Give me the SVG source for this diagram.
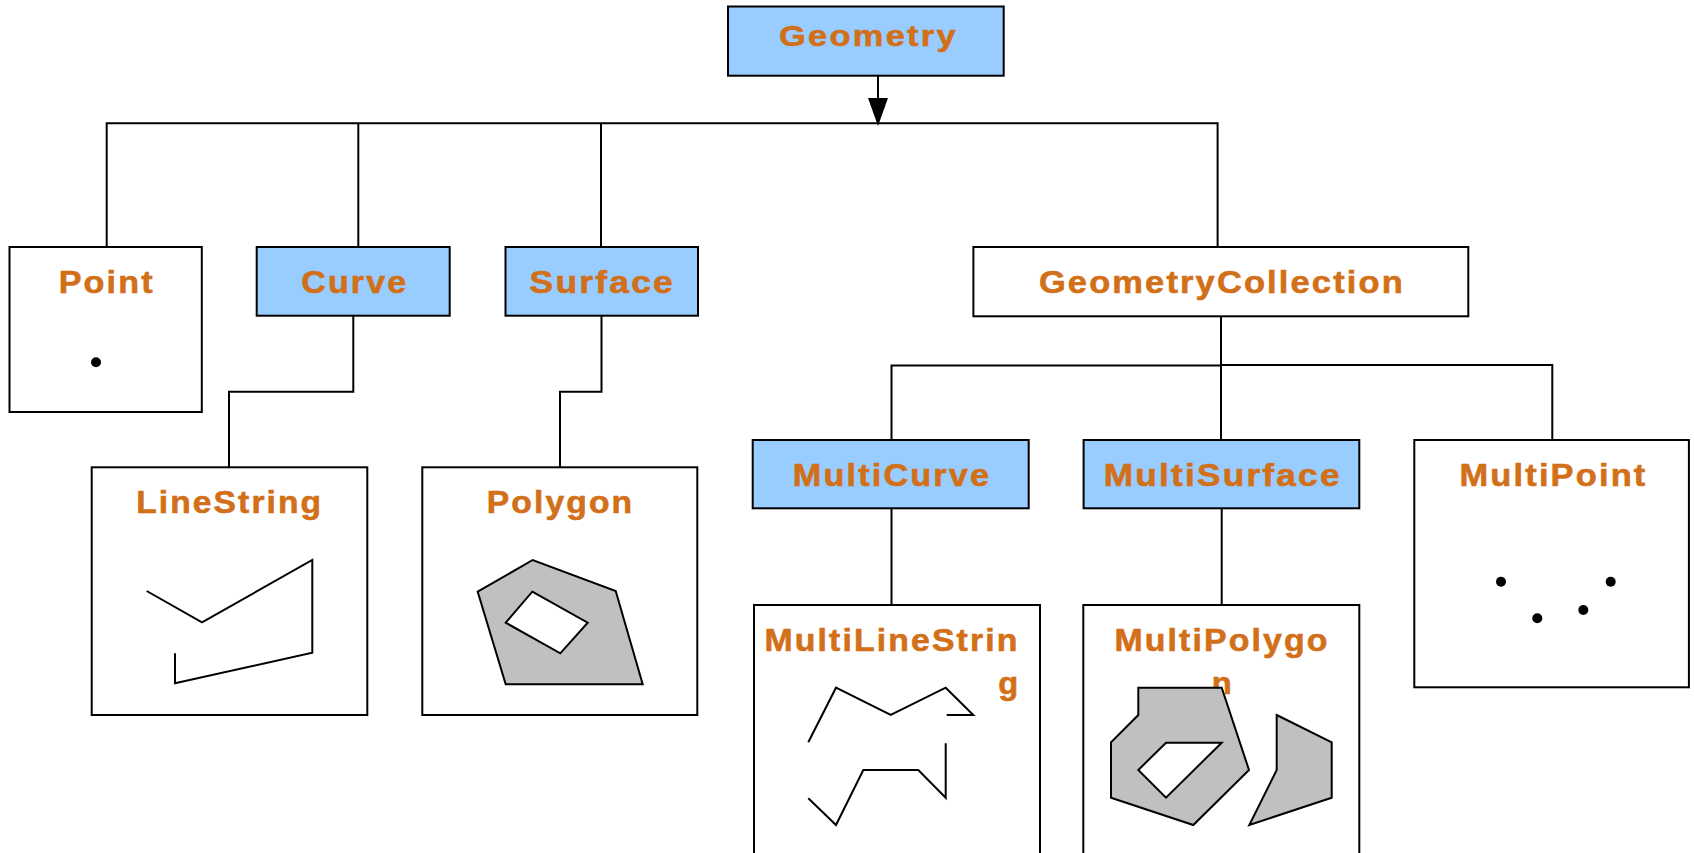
<svg xmlns="http://www.w3.org/2000/svg" width="1694" height="853" viewBox="0 0 1694 853">
<style>
.box{fill:#ffffff;stroke:#000;stroke-width:2}
.blue{fill:#99CCFF;stroke:#000;stroke-width:2}
.lbl{font-family:"Liberation Sans",Arial,sans-serif;font-weight:bold;font-size:32px;letter-spacing:2px;fill:#D2701A;stroke:#D2701A;stroke-width:0.6;text-anchor:middle}
.conn{fill:none;stroke:#000;stroke-width:2}
.geo{fill:none;stroke:#000;stroke-width:2;stroke-linejoin:miter}
.poly{fill:#C0C0C0;stroke:#000;stroke-width:2}
.hole{fill:#ffffff;stroke:#000;stroke-width:2}
</style>
<rect width="1694" height="853" fill="#ffffff"/>
<g id="connectors">
<path class="conn" d="M878,76 L878,98"/>
<path d="M868,98 L888,98 L878,126 Z" fill="#000"/>
<path class="conn" d="M106.7,247 L106.7,123.3 L1217.6,123.3 L1217.6,247"/>
<path class="conn" d="M358.3,123.3 L358.3,247"/>
<path class="conn" d="M601,123.3 L601,247"/>
<path class="conn" d="M353.3,316 L353.3,391.7 L229,391.7 L229,467"/>
<path class="conn" d="M601.5,316 L601.5,391.7 L560,391.7 L560,467"/>
<path class="conn" d="M1221,316.5 L1221,440"/>
<path class="conn" d="M891.5,440 L891.5,365.5 L1221,365.5"/>
<path class="conn" d="M1221,365 L1552.3,365 L1552.3,440"/>
<path class="conn" d="M891.5,508 L891.5,605"/>
<path class="conn" d="M1221.7,508 L1221.7,605"/>
</g>
<g id="geometry">
<rect class="blue" x="728" y="6.5" width="275.7" height="69.2"/>
<text class="lbl" x="868.5" y="45.5" style="font-size:30px" textLength="179" lengthAdjust="spacingAndGlyphs">Geometry</text>
</g>
<g id="point">
<rect class="box" x="9.5" y="247" width="192.3" height="165"/>
<text class="lbl" x="106.7" y="293.3" textLength="96" lengthAdjust="spacingAndGlyphs">Point</text>
<circle cx="96" cy="362.3" r="5"/>
</g>
<g id="curve">
<rect class="blue" x="256.7" y="247" width="193" height="68.7"/>
<text class="lbl" x="354.8" y="293.3" textLength="107" lengthAdjust="spacingAndGlyphs">Curve</text>
</g>
<g id="surface">
<rect class="blue" x="505.5" y="247" width="192.5" height="68.7"/>
<text class="lbl" x="602.3" y="292.8" textLength="145.5" lengthAdjust="spacingAndGlyphs">Surface</text>
</g>
<g id="geometrycollection">
<rect class="box" x="973.4" y="247" width="494.9" height="69.3"/>
<text class="lbl" x="1221.9" y="293.3" textLength="366" lengthAdjust="spacingAndGlyphs">GeometryCollection</text>
</g>
<g id="linestring">
<rect class="box" x="91.7" y="467.3" width="275.6" height="247.7"/>
<text class="lbl" x="229.7" y="512.7" textLength="187" lengthAdjust="spacingAndGlyphs">LineString</text>
<polyline class="geo" points="146.7,591 202,622.3 312.3,560 312.3,652.7 175,683.3 175,653.3"/>
</g>
<g id="polygon">
<rect class="box" x="422.3" y="467.3" width="275" height="247.7"/>
<text class="lbl" x="560.5" y="512.7" textLength="147.5" lengthAdjust="spacingAndGlyphs">Polygon</text>
<polygon class="poly" points="477.7,591.7 532.7,560 615.7,591 642.7,684.3 505.7,684.3"/>
<polygon class="hole" points="532.3,591.7 587.7,622.7 560.3,653.3 505.7,622.7"/>
</g>
<g id="multicurve">
<rect class="blue" x="752.7" y="440" width="276" height="68.3"/>
<text class="lbl" x="892" y="485.7" textLength="198.5" lengthAdjust="spacingAndGlyphs">MultiCurve</text>
</g>
<g id="multisurface">
<rect class="blue" x="1083.6" y="440" width="275.7" height="68.3"/>
<text class="lbl" x="1222.7" y="485.7" textLength="238" lengthAdjust="spacingAndGlyphs">MultiSurface</text>
</g>
<g id="multipoint">
<rect class="box" x="1414.3" y="440" width="274.6" height="247.3"/>
<text class="lbl" x="1553.5" y="486" textLength="188" lengthAdjust="spacingAndGlyphs">MultiPoint</text>
<circle cx="1501" cy="581.7" r="5"/>
<circle cx="1610.7" cy="581.7" r="5"/>
<circle cx="1537.3" cy="618.3" r="5"/>
<circle cx="1583.3" cy="610" r="5"/>
</g>
<g id="multilinestring">
<rect class="box" x="754" y="605" width="286" height="252"/>
<text class="lbl" x="892" y="651" textLength="255" lengthAdjust="spacingAndGlyphs">MultiLineStrin</text>
<text class="lbl" x="1009.3" y="694" textLength="22" lengthAdjust="spacingAndGlyphs">g</text>
<polyline class="geo" points="808.3,742.3 836,687.7 890.7,715 945.7,687.7 973.3,715 946.7,715"/>
<polyline class="geo" points="808.3,798.3 836,825 863.3,770 918.3,770 945.7,797.7 945.7,743.3"/>
</g>
<g id="multipolygon">
<rect class="box" x="1083.3" y="605" width="276" height="252"/>
<text class="lbl" x="1222" y="651" textLength="215" lengthAdjust="spacingAndGlyphs">MultiPolygo</text>
<text class="lbl" x="1222.7" y="694" textLength="22" lengthAdjust="spacingAndGlyphs">n</text>
<polygon class="poly" points="1138.3,687.7 1221.7,687.7 1249,770 1193.3,825 1111,797.7 1111,742.3 1138.3,715"/>
<polygon class="hole" points="1166,742.7 1221.7,742.7 1166,797.7 1138.3,770"/>
<polygon class="poly" points="1276.7,715 1331.7,742.3 1331.7,797.7 1249.3,825 1276.7,770"/>
</g>
</svg>
